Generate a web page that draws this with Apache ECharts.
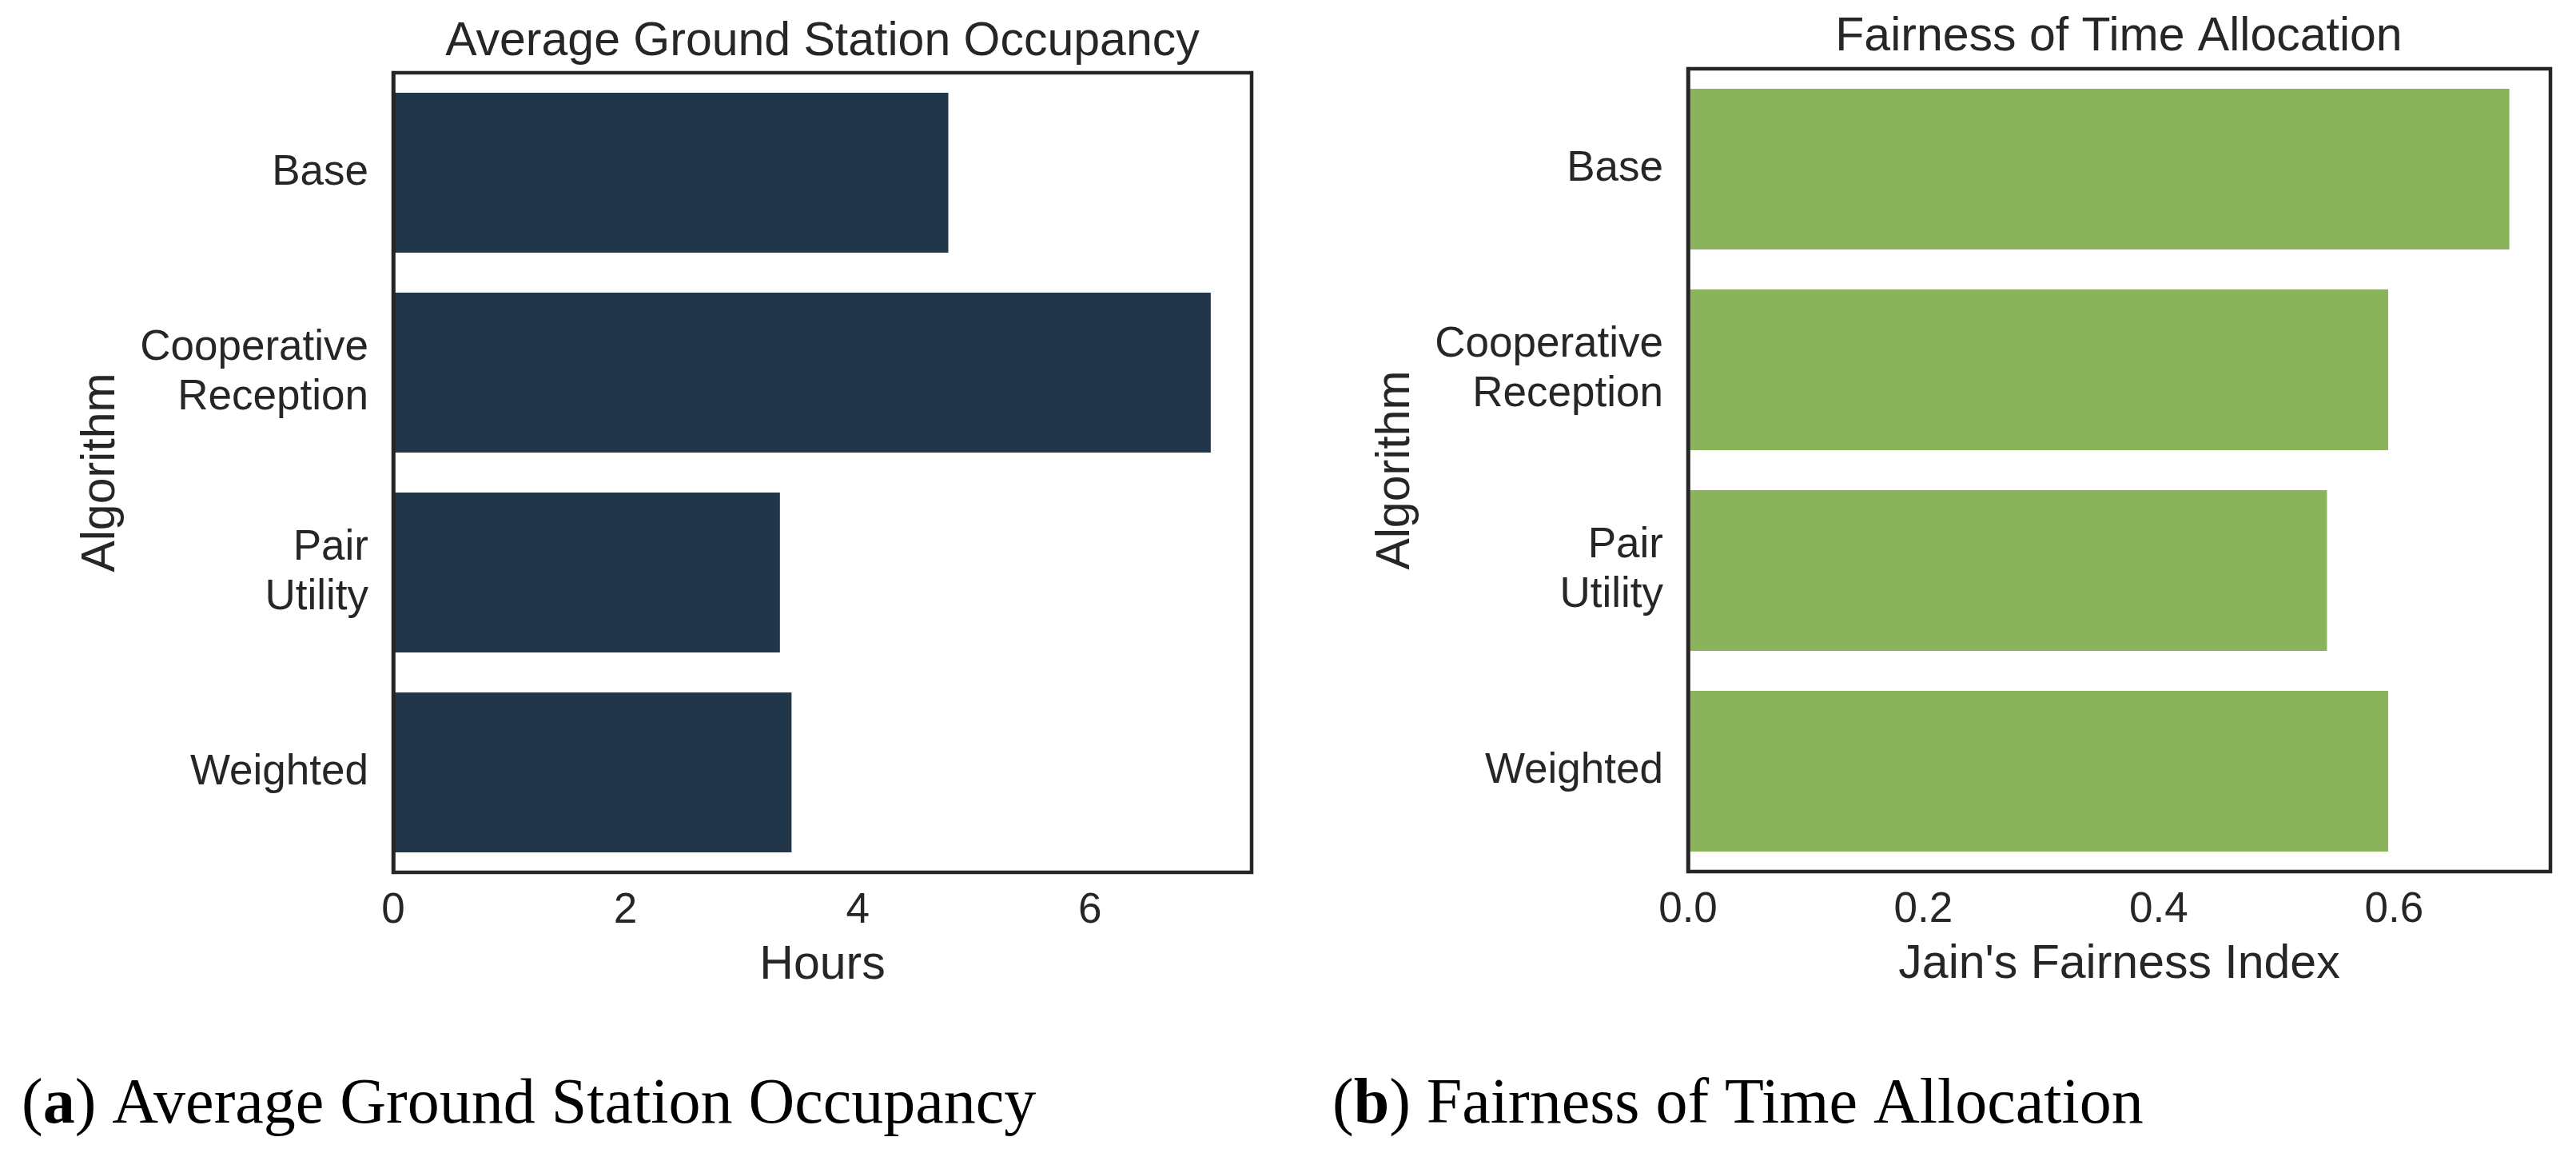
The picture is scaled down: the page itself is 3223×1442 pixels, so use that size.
<!DOCTYPE html>
<html>
<head>
<meta charset="utf-8">
<script src="https://cdn.jsdelivr.net/npm/echarts@6/dist/echarts.min.js"></script>
<style>
  html, body { margin: 0; padding: 0; background: #ffffff; }
  #chart { width: 3223px; height: 1442px; }
</style>
</head>
<body>
<div id="chart"></div>
<script>
// ---- data ----
const algorithms = ['Base', 'Cooperative\nReception', 'Pair\nUtility', 'Weighted'];
const occupancyHours = [4.78, 7.04, 3.33, 3.43];
const fairnessIndex = [0.698, 0.595, 0.543, 0.595];
const hoursTickStep = 2;
const fairnessTickStep = 0.2;
const panelTitles = ['Average Ground Station Occupancy', 'Fairness of Time Allocation'];
const xAxisNames = ['Hours', "Jain's Fairness Index"];
const yAxisName = 'Algorithm';
const captionLetters = ['a', 'b'];

// ---- style ----
const SANS = "'Liberation Sans', Arial, Helvetica, sans-serif";
const SERIF = "'Liberation Serif', 'Times New Roman', serif";
const INK = '#262626';
const TICK_FS = 53;
const LABEL_FS = 59;

const chart = echarts.init(document.getElementById('chart'), null, { renderer: 'canvas' });

function xAxisCfg(gridIndex, name, max, step, fmt) {
  return {
    type: 'value', gridIndex, min: 0, max, interval: step,
    name, nameLocation: 'middle', nameGap: 87,
    nameTextStyle: { fontFamily: SANS, fontSize: LABEL_FS, color: INK },
    axisLine: { show: false }, axisTick: { show: false }, splitLine: { show: false },
    axisLabel: { show: true, margin: 22, fontFamily: SANS, fontSize: TICK_FS, color: INK,
      showMaxLabel: false, formatter: fmt }
  };
}
function yAxisCfg(gridIndex) {
  return {
    type: 'category', gridIndex, data: algorithms, inverse: true, z: 10,
    name: yAxisName, nameLocation: 'middle', nameGap: 336, nameRotate: 90,
    nameTextStyle: { fontFamily: SANS, fontSize: LABEL_FS, color: INK },
    axisLine: { show: true, lineStyle: { color: INK, width: 4.5 } },
    axisTick: { show: false }, splitLine: { show: false },
    axisLabel: { margin: 31, fontFamily: SANS, fontSize: TICK_FS, lineHeight: 62, color: INK, align: 'right' }
  };
}

function caption(x, letter, text) {
  return {
    type: 'text', x, y: 1383,
    style: {
      text: '{n|(}{b|' + letter + '}{n|) ' + text + '}',
      rich: {
        n: { fontFamily: SERIF, fontSize: 80, fill: '#000', color: '#000' },
        b: { fontFamily: SERIF, fontSize: 80, fontWeight: 'bold', fill: '#000', color: '#000' }
      },
      align: 'left', verticalAlign: 'middle', textAlign: 'left', textVerticalAlign: 'middle'
    }
  };
}
function panelTitle(x, y, text) {
  return {
    type: 'text', x, y,
    style: {
      text, font: LABEL_FS + 'px ' + SANS, fill: INK,
      align: 'center', verticalAlign: 'middle', textAlign: 'center', textVerticalAlign: 'middle'
    }
  };
}

const option = {
  backgroundColor: '#ffffff',
  animation: false,
  grid: [
    { left: 492, right: 3223 - 1566, top: 91, bottom: 1442 - 1091, show: true,
      borderColor: INK, borderWidth: 4.5, backgroundColor: 'transparent', containLabel: false },
    { left: 2112, right: 3223 - 3191, top: 86, bottom: 1442 - 1090, show: true,
      borderColor: INK, borderWidth: 4.5, backgroundColor: 'transparent', containLabel: false }
  ],
  xAxis: [
    xAxisCfg(0, xAxisNames[0], Math.max(...occupancyHours) * 1.05, hoursTickStep, v => String(v)),
    xAxisCfg(1, xAxisNames[1], Math.max(...fairnessIndex) * 1.05, fairnessTickStep, v => v.toFixed(1))
  ],
  yAxis: [ yAxisCfg(0), yAxisCfg(1) ],
  series: [
    { type: 'bar', xAxisIndex: 0, yAxisIndex: 0, data: occupancyHours,
      barCategoryGap: '20%', itemStyle: { color: '#22364a' }, silent: true },
    { type: 'bar', xAxisIndex: 1, yAxisIndex: 1, data: fairnessIndex,
      barCategoryGap: '20%', itemStyle: { color: '#8bb35b' }, silent: true }
  ],
  graphic: [
    panelTitle(1029, 52.5, panelTitles[0]),
    panelTitle(2651, 46.5, panelTitles[1]),
    caption(27, captionLetters[0], panelTitles[0]),
    caption(1667, captionLetters[1], panelTitles[1])
  ]
};
chart.setOption(option);
</script>
</body>
</html>
